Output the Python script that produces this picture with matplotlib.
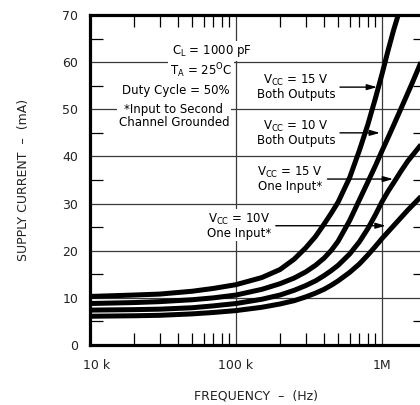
import matplotlib
matplotlib.use("Agg")
import matplotlib.pyplot as plt
from matplotlib.ticker import FixedLocator, NullFormatter
from matplotlib.transforms import ScaledTranslation

# ---------------- data ----------------
# Vcc = 15 V, both outputs
f_15_both = [10e3, 20e3, 30e3, 50e3, 70e3, 100e3, 150e3, 200e3, 250e3, 300e3,
             350e3, 400e3, 450e3, 500e3, 600e3, 700e3, 800e3, 900e3, 1.0e6,
             1.1e6, 1.2e6, 1.35e6]
i_15_both = [10.3, 10.6, 10.8, 11.4, 12.0, 12.8, 14.3, 16.0, 18.2, 20.6,
             23.0, 25.6, 28.0, 30.3, 35.5, 41.3, 46.8, 52.3, 57.5,
             62.5, 66.8, 72.0]
# Vcc = 10 V, both outputs
f_10_both = [10e3, 20e3, 30e3, 50e3, 70e3, 100e3, 150e3, 200e3, 250e3, 300e3,
             350e3, 400e3, 450e3, 500e3, 600e3, 700e3, 800e3, 900e3, 1.0e6,
             1.1e6, 1.2e6, 1.4e6, 1.6e6, 1.85e6]
i_10_both = [8.8, 9.0, 9.2, 9.6, 10.0, 10.6, 11.8, 13.0, 14.2, 15.5,
             16.9, 18.4, 20.1, 22.0, 26.4, 30.8, 34.6, 38.0, 41.2,
             44.0, 46.6, 51.3, 55.4, 60.0]
# Vcc = 15 V, one input
f_15_one = [10e3, 20e3, 30e3, 50e3, 70e3, 100e3, 150e3, 200e3, 250e3, 300e3,
            350e3, 400e3, 450e3, 500e3, 600e3, 700e3, 800e3, 900e3, 1.0e6,
            1.1e6, 1.2e6, 1.35e6, 1.5e6, 1.85e6]
i_15_one = [7.4, 7.5, 7.6, 7.9, 8.3, 8.8, 9.7, 10.6, 11.6, 12.6,
            13.6, 14.7, 15.8, 16.9, 19.3, 21.9, 24.7, 27.6, 30.4,
            32.6, 34.4, 36.9, 39.0, 42.5]
# Vcc = 10 V, one input
f_10_one = [10e3, 20e3, 30e3, 50e3, 70e3, 100e3, 150e3, 200e3, 250e3, 300e3,
            350e3, 400e3, 450e3, 500e3, 600e3, 700e3, 800e3, 900e3, 1.0e6,
            1.2e6, 1.5e6, 1.85e6]
i_10_one = [6.1, 6.2, 6.3, 6.6, 6.9, 7.3, 8.0, 8.7, 9.4, 10.2,
            11.0, 11.8, 12.7, 13.6, 15.4, 17.2, 19.1, 20.9, 22.6,
            25.3, 28.6, 31.5]

x_major = [1e4, 1e5, 1e6]
x_major_labels = ["10 k", "100 k", "1M"]
y_major = [0, 10, 20, 30, 40, 50, 60, 70]
y_minor = [5, 15, 25, 35, 45, 55, 65]
x_minor = [2e4, 3e4, 4e4, 5e4, 6e4, 7e4, 8e4, 9e4,
           2e5, 3e5, 4e5, 5e5, 6e5, 7e5, 8e5, 9e5]

# ---------------- figure ----------------
plt.rcParams["font.family"] = ["DejaVu Sans"]
plt.rcParams["mathtext.fontset"] = "dejavusans"

W, H = 420, 405
fig = plt.figure(figsize=(W / 100, H / 100), dpi=100)
fig.patch.set_facecolor("white")
ax = fig.add_axes([90 / W, 1 - 345 / H, 336 / W, 330 / H])
ax.set_xscale("log")
ax.set_xlim(1e4, 2e6)
ax.set_ylim(0, 70)

ax.grid(True, which="major", color="#3a3a3a", lw=0.9, zorder=1)
ax.set_axisbelow(True)

for s in ax.spines.values():
    s.set_linewidth(2.3)
    s.set_color("black")
    s.set_zorder(6)

ax.set_xticks(x_major)
ax.set_xticklabels(x_major_labels)
ax.xaxis.set_minor_locator(FixedLocator(x_minor))
ax.xaxis.set_minor_formatter(NullFormatter())
ax.set_yticks(y_major)
ax.yaxis.set_minor_locator(FixedLocator(y_minor))
ax.yaxis.set_minor_formatter(NullFormatter())

ax.tick_params(axis="both", which="major", length=0, labelsize=9,
               labelcolor="#222222")
ax.tick_params(axis="x", which="major", pad=10)
ax.tick_params(axis="y", which="major", pad=8.5)
ax.tick_params(axis="x", which="minor", direction="in", length=8.5, width=0.9,
               top=True, bottom=True, color="black")
ax.tick_params(axis="y", which="minor", direction="in", length=9.5, width=0.9,
               left=True, right=True, color="black")

# shift the "10 k" label slightly right as in the reference
lbl = ax.get_xticklabels()[0]
lbl.set_transform(lbl.get_transform() + ScaledTranslation(7 / 100, 0, fig.dpi_scale_trans))

# curves
for f, i in [(f_15_both, i_15_both), (f_10_both, i_10_both),
             (f_15_one, i_15_one), (f_10_one, i_10_one)]:
    ax.plot(f, i, color="black", lw=3.6, solid_capstyle="butt",
            solid_joinstyle="round", zorder=3)

# annotation text blocks
box = dict(boxstyle="square,pad=0.15", fc="white", ec="none")
fs = 8.5
ax.text(6.85e4, 62.4, r"C$_{\mathrm{L}}$ = 1000 pF", ha="center", va="center",
        fontsize=fs, bbox=box, zorder=4)
ax.text(5.76e4, 58.1, r"T$_{\mathrm{A}}$ = 25$^{\mathrm{O}}$C", ha="center", va="center",
        fontsize=fs, bbox=box, zorder=4)
ax.text(3.88e4, 53.9, "Duty Cycle = 50%", ha="center", va="center",
        fontsize=fs, bbox=box, zorder=4)
ax.text(3.76e4, 48.6, "*Input to Second\nChannel Grounded", ha="center", va="center",
        fontsize=fs, bbox=box, zorder=4, linespacing=1.0)

arrow = dict(arrowstyle="-|>,head_length=0.7,head_width=0.2", color="black",
             lw=1.0, shrinkA=2, shrinkB=0)
ax.annotate("V$_{\\mathrm{CC}}$ = 15 V\nBoth Outputs", xy=(0.925e6, 54.7),
            xytext=(2.58e5, 54.7), ha="center", va="center", fontsize=fs,
            bbox=box, arrowprops=arrow, zorder=4, linespacing=0.95)
ax.annotate("V$_{\\mathrm{CC}}$ = 10 V\nBoth Outputs", xy=(0.968e6, 45.0),
            xytext=(2.58e5, 45.0), ha="center", va="center", fontsize=fs,
            bbox=box, arrowprops=arrow, zorder=4, linespacing=0.95)
ax.annotate("V$_{\\mathrm{CC}}$ = 15 V\nOne Input*", xy=(1.19e6, 35.2),
            xytext=(2.34e5, 35.2), ha="center", va="center", fontsize=fs,
            bbox=box, arrowprops=arrow, zorder=4, linespacing=0.95)
ax.annotate("V$_{\\mathrm{CC}}$ = 10V\nOne Input*", xy=(1.06e6, 25.3),
            xytext=(1.05e5, 25.3), ha="center", va="center", fontsize=fs,
            bbox=box, arrowprops=arrow, zorder=4, linespacing=0.95)

# axis titles
fig.text(24 / W, 1 - 180 / H, "SUPPLY CURRENT  \u2013  (mA)", rotation=90,
         ha="center", va="center", fontsize=9, color="#222222")
fig.text(256 / W, 1 - 396 / H, "FREQUENCY  \u2013  (Hz)", ha="center",
         va="center", fontsize=9, color="#222222")

fig.savefig("out.png", dpi=100, facecolor="white")
